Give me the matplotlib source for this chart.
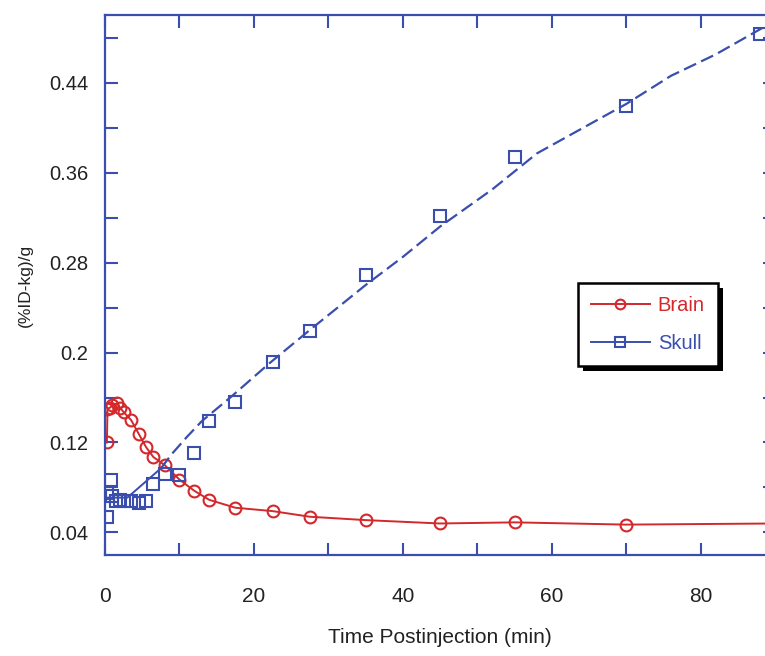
import numpy as np
import matplotlib
matplotlib.use("Agg")
import matplotlib.pyplot as plt
import matplotlib.patheffects as pe
from matplotlib.ticker import MultipleLocator, FixedLocator

plt.rcParams['font.family'] = ['Liberation Sans', 'DejaVu Sans']

# brain uptake (red circles)
brain_t = [0.25, 0.33, 0.67, 1.0, 1.67, 2.0, 2.5, 3.5, 4.5, 5.5, 6.5, 8,
           10, 12, 14, 17.5, 22.5, 27.5, 35, 45, 55, 70]
brain_y = [0.120, 0.150, 0.151, 0.153, 0.155, 0.151, 0.147, 0.140, 0.128,
           0.116, 0.107, 0.100, 0.087, 0.077, 0.069, 0.062, 0.059, 0.054,
           0.051, 0.048, 0.049, 0.047]
brain_fit_t = brain_t + [90]
brain_fit_y = brain_y + [0.048]

# skull uptake (blue squares)
skull_t = [0.25, 0.33, 0.75, 1.0, 1.5, 2.0, 2.5, 3.5, 4.5, 5.5, 6.5, 8,
           10, 12, 14, 17.5, 22.5, 27.5, 35, 45, 55, 70, 88]
skull_y = [0.054, 0.075, 0.087, 0.072, 0.068, 0.069, 0.068, 0.068, 0.066,
           0.068, 0.083, 0.092, 0.091, 0.111, 0.139, 0.156, 0.192, 0.219,
           0.269, 0.321, 0.374, 0.419, 0.483]
# model curve for skull: solid part then dashed part
skull_fit_solid_t = [0, 3, 7.5]
skull_fit_solid_y = [0.071, 0.071, 0.097]
skull_fit_t = [7.5, 9, 11, 13, 17, 22, 27.5, 35, 40, 45, 52, 58, 70, 76, 82, 90]
skull_fit_y = [0.097, 0.110, 0.125, 0.139, 0.161, 0.190, 0.220, 0.260, 0.285,
               0.312, 0.345, 0.377, 0.421, 0.446, 0.465, 0.495]

x_labels = [0, 20, 40, 60, 80]
y_labels = [0.04, 0.12, 0.2, 0.28, 0.36, 0.44]

red = '#d3282c'
blue = '#3a4eae'
txt = '#222222'

fig = plt.figure(figsize=(7.65, 6.56), dpi=100)
ax = fig.add_axes([0.1373, 0.154, 0.876, 0.823])

ax.plot(brain_fit_t, brain_fit_y, color=red, lw=1.4)
ax.plot(brain_t, brain_y, ls='none', marker='o', ms=8.5, mfc='none',
        mec=red, mew=1.5)

ax.plot(skull_fit_solid_t, skull_fit_solid_y, color=blue, lw=1.4)
ax.plot(skull_fit_t, skull_fit_y, color=blue, lw=1.6, dashes=(6, 2.5))
ax.plot(skull_t, skull_y, ls='none', marker='s', ms=8.5, mfc='none',
        mec=blue, mew=1.5)

ax.set_xlim(0, 90)
ax.set_ylim(0.02, 0.50)

ax.xaxis.set_major_locator(FixedLocator(x_labels))
ax.xaxis.set_minor_locator(MultipleLocator(10))
ax.yaxis.set_major_locator(FixedLocator(y_labels))
ax.yaxis.set_minor_locator(MultipleLocator(0.04))
ax.set_xticklabels([str(v) for v in x_labels])
ax.set_yticklabels([str(v) for v in y_labels])

for s in ax.spines.values():
    s.set_color(blue)
    s.set_linewidth(1.6)
ax.tick_params(which='both', direction='in', top=True, right=True,
               color=blue, width=1.5, length=9)
ax.tick_params(axis='x', which='major', pad=23, labelsize=15, labelcolor=txt)
ax.tick_params(axis='y', which='major', pad=12, labelsize=14.5, labelcolor=txt)

ax.set_xlabel('Time Postinjection (min)', fontsize=15, color=txt, labelpad=16)
ax.set_ylabel('(%ID-kg)/g', fontsize=12.5, color=txt, labelpad=12)

h1, = ax.plot([], [], color=red, lw=1.4, marker='o', ms=7, mfc='none', mec=red, mew=1.5)
h2, = ax.plot([], [], color=blue, lw=1.4, marker='s', ms=7, mfc='none', mec=blue, mew=1.5)
leg = ax.legend([h1, h2], ['Brain', 'Skull'], loc='upper left',
                bbox_to_anchor=(0.706, 0.504), borderaxespad=0, fontsize=14.5,
                labelcolor=[red, blue], fancybox=False, framealpha=1,
                edgecolor='black', handlelength=2.9, handletextpad=0.4,
                borderpad=0.65, labelspacing=0.95)
frame = leg.get_frame()
frame.set_linewidth(1.8)
frame.set_path_effects([pe.SimplePatchShadow(offset=(3.5, -3.5), shadow_rgbFace='black',
                                             alpha=1), pe.Normal()])

fig.savefig('out.png', dpi=100)
